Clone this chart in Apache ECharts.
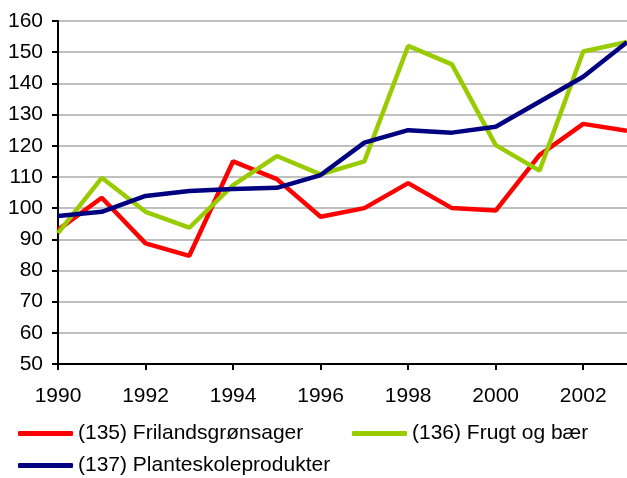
<!DOCTYPE html>
<html>
<head>
<meta charset="utf-8">
<script src="https://cdn.jsdelivr.net/npm/echarts@6/dist/echarts.min.js"></script>
<style>
  html, body { margin: 0; padding: 0; background: #fff; }
  #chart { width: 627px; height: 478px; }
</style>
</head>
<body>
<div id="chart"></div>
<script>
// years on the x axis
const years = ['1990', '1991', '1992', '1993', '1994', '1995', '1996',
               '1997', '1998', '1999', '2000', '2001', '2002', '2003'];

// index values
const friland = [93, 103.3, 88.7, 84.7, 115, 109.3, 97.2, 100, 108, 100, 99.2, 117, 127, 124.8];
const frugt = [92, 109.7, 98.8, 93.7, 107.4, 116.7, 110.8, 115, 152, 146.1, 120.2, 112, 150.2, 153.3];
const plante = [97.5, 98.8, 103.9, 105.5, 106.1, 106.5, 110.6, 121, 125, 124.2, 126.1, 134.1, 142.1, 153.2];

const names = ['(135) Frilandsgrønsager', '(136) Frugt og bær', '(137) Planteskoleprodukter'];
const colors = ['#ff0000', '#99cc00', '#000080'];

const chart = echarts.init(document.getElementById('chart'));

const font = '"Liberation Sans", Arial, sans-serif';
const fsize = 21;

function legendFor(name, left, top) {
    return {
        data: [name],
        left: left,
        top: top,
        icon: 'roundRect',
        itemWidth: 55,
        itemHeight: 5,
        padding: 0,
        textStyle: { fontFamily: font, fontSize: fsize, color: '#000' }
    };
}

const option = {
    animation: false,
    color: colors,
    grid: { left: 58, top: 21, width: 575, height: 343 },
    legend: [
        legendFor(names[0], 18, 423),
        legendFor(names[1], 352, 423),
        legendFor(names[2], 18, 455)
    ],
    xAxis: {
        type: 'category',
        data: years,
        boundaryGap: false,
        axisLine: { lineStyle: { color: '#000', width: 2 } },
        axisTick: { interval: 1, length: 6, lineStyle: { color: '#000', width: 2 } },
        axisLabel: { interval: 1, margin: 22, fontFamily: font, fontSize: fsize, color: '#000' },
        splitLine: { show: false }
    },
    yAxis: {
        type: 'value',
        min: 50,
        max: 160,
        interval: 10,
        axisLine: { show: true, lineStyle: { color: '#000', width: 2 } },
        axisTick: { show: true, length: 6, lineStyle: { color: '#000', width: 2 } },
        axisLabel: { margin: 15, fontFamily: font, fontSize: fsize, color: '#000' },
        splitLine: { lineStyle: { color: '#c0c0c0', width: 2 } }
    },
    series: [
        { name: names[0], type: 'line', data: friland },
        { name: names[1], type: 'line', data: frugt },
        { name: names[2], type: 'line', data: plante }
    ].map(s => Object.assign(s, {
        showSymbol: false,
        symbol: 'none',
        lineStyle: { width: 4.5 }
    }))
};

chart.setOption(option);
</script>
</body>
</html>
